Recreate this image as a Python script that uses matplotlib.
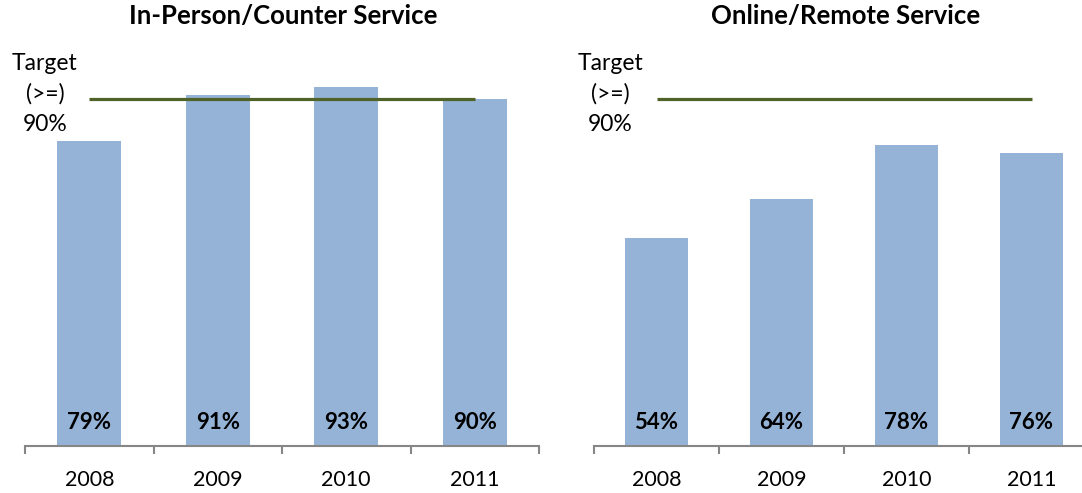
import matplotlib.pyplot as plt

# Dados do gráfico
anos = ['2008', '2009', '2010', '2011']
presencial = [79, 91, 93, 90]
remoto = [54, 64, 78, 76]
meta = 90
titulos = ['In-Person/Counter Service', 'Online/Remote Service']

plt.rcParams['font.family'] = ['Lato', 'DejaVu Sans']

cor_barra = '#95B3D7'
cor_meta = '#4F6228'

W, H = 1082, 493
fig = plt.figure(figsize=(W / 100, H / 100), dpi=100)

# posições dos eixos em pixels (esquerda, direita, centro do texto da meta, centro do título)
posicoes = [(25, 539, 45, 283), (594, 1094, 610, 846)]
topo, base = 60.5, 446

for (x0, x1, xm, xt), valores, titulo in zip(posicoes, [presencial, remoto], titulos):
    ax = fig.add_axes([x0 / W, 1 - base / H, (x1 - x0) / W, (base - topo) / H])
    x = range(len(anos))
    ax.bar(x, valores, width=0.5, color=cor_barra)
    for xi, v in zip(x, valores):
        ax.text(xi, 6.2, f'{v}%', ha='center', va='center', fontsize=16, fontweight='bold')
    ax.plot([0, len(anos) - 1], [meta, meta], color=cor_meta, lw=2.3, solid_capstyle='butt')
    ax.set_xlim(-0.5, len(anos) - 0.5)
    ax.set_ylim(0, 100)
    for lado in ['top', 'right', 'left']:
        ax.spines[lado].set_visible(False)
    ax.spines['bottom'].set_color('#868686')
    ax.spines['bottom'].set_linewidth(1.5)
    ax.set_yticks([])
    ax.set_xticks(list(x))
    ax.set_xticklabels(anos, fontsize=15.5)
    ax.tick_params(axis='x', which='major', length=0, pad=17)
    ax.set_xticks([i - 0.5 for i in range(len(anos) + 1)], minor=True)
    ax.tick_params(axis='x', which='minor', length=6, width=1.5, color='#868686')
    # texto da meta
    fig.text(xm / W, 1 - 94 / H, 'Target\n(>=)\n90%',
             ha='center', va='center', fontsize=16.5, linespacing=1.55)
    fig.text(xt / W, 1 - 16 / H, titulo,
             ha='center', va='center', fontsize=18.5, fontweight='bold')

fig.savefig('out.png', dpi=100)
